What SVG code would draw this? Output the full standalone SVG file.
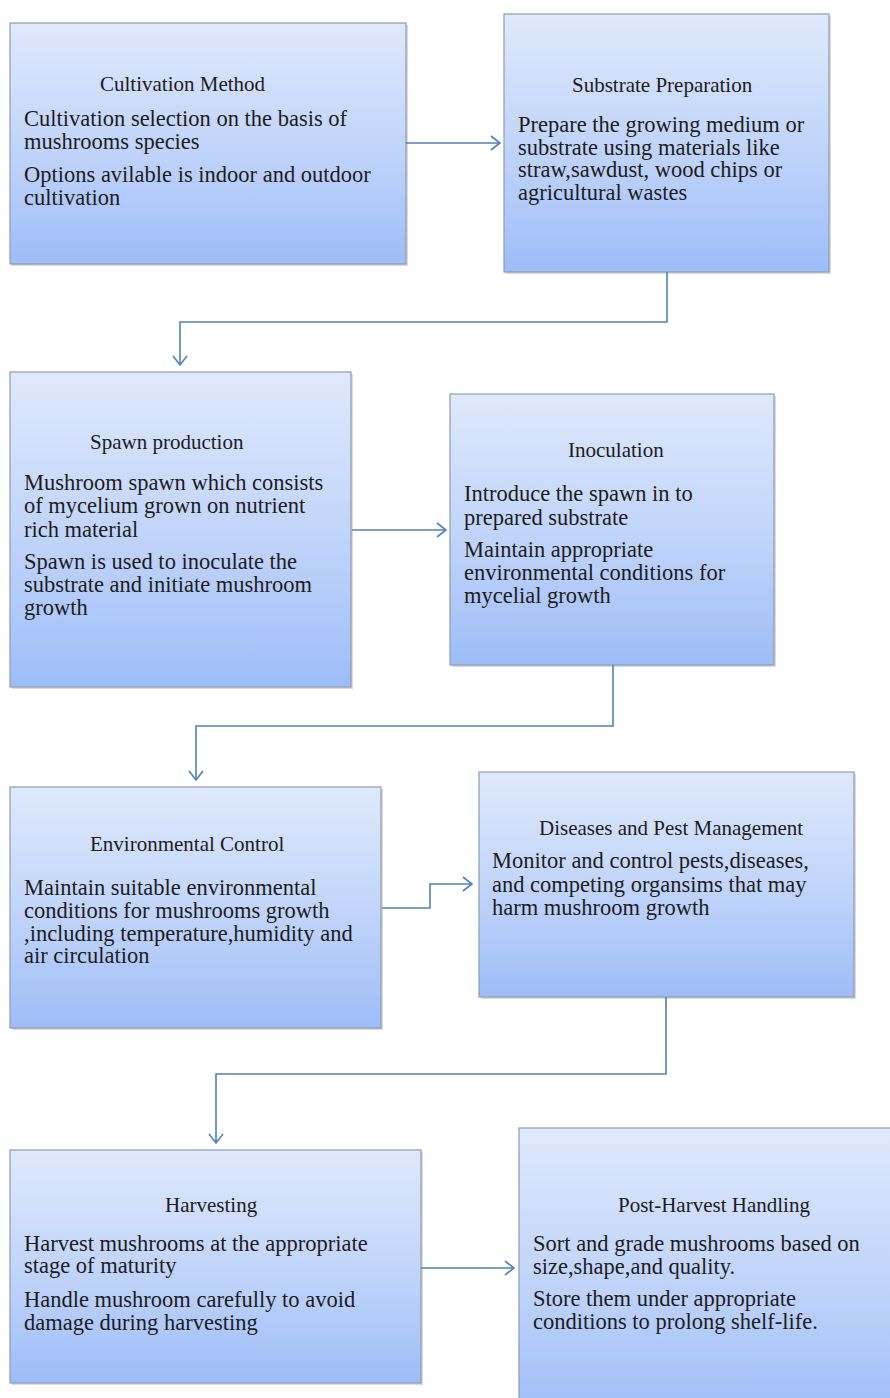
<svg xmlns="http://www.w3.org/2000/svg" width="890" height="1398" viewBox="0 0 890 1398">
<defs>
<linearGradient id="g" x1="0" y1="0" x2="0" y2="1">
<stop offset="0" stop-color="#dfe9fc"/>
<stop offset="0.6" stop-color="#bcd1fa"/>
<stop offset="1" stop-color="#9dbdf8"/>
</linearGradient>
<marker id="a" markerUnits="userSpaceOnUse" markerWidth="20" markerHeight="20" refX="10" refY="8" orient="auto">
<path d="M1,1 L10,8 L1,15" fill="none" stroke="#4f81bd" stroke-width="1.6"/>
</marker>
</defs>
<style>
.box{fill:url(#g);stroke:#8c9cb3;stroke-width:1.2}
.sh{fill:#9a9a9a;opacity:0.35}
.t{font-family:"Liberation Serif","Times New Roman",serif;font-size:21px;fill:#1c1c1c}
.b{font-family:"Liberation Serif","Times New Roman",serif;font-size:22.5px;fill:#1c1c1c}
.c{fill:none;stroke:#4f81bd;stroke-width:1.6;marker-end:url(#a)}
</style>
<rect width="890" height="1398" fill="#ffffff"/>
<g id="n1">
<rect class="sh" x="12" y="25" width="396" height="241"/>
<rect class="box" x="10" y="23" width="396" height="241"/>
<text class="t" x="100" y="91">Cultivation Method</text>
<text class="b" x="24" y="126">Cultivation selection on the basis of</text>
<text class="b" x="24" y="149">mushrooms species</text>
<text class="b" x="24" y="182">Options avilable is indoor and outdoor</text>
<text class="b" x="24" y="205">cultivation</text>
</g>
<g id="n2">
<rect class="sh" x="506" y="16" width="325" height="258"/>
<rect class="box" x="504" y="14" width="325" height="258"/>
<text class="t" x="572" y="92">Substrate Preparation</text>
<text class="b" x="518" y="132">Prepare the growing medium or</text>
<text class="b" x="518" y="155">substrate using materials like</text>
<text class="b" x="518" y="177">straw,sawdust, wood chips or</text>
<text class="b" x="518" y="200">agricultural wastes</text>
</g>
<g id="n3">
<rect class="sh" x="12" y="374" width="341" height="315"/>
<rect class="box" x="10" y="372" width="341" height="315"/>
<text class="t" x="90" y="449">Spawn production</text>
<text class="b" x="24" y="490">Mushroom spawn which consists</text>
<text class="b" x="24" y="513">of mycelium grown on nutrient</text>
<text class="b" x="24" y="537">rich material</text>
<text class="b" x="24" y="569">Spawn is used to inoculate the</text>
<text class="b" x="24" y="592">substrate and initiate mushroom</text>
<text class="b" x="24" y="615">growth</text>
</g>
<g id="n4">
<rect class="sh" x="452" y="396" width="324" height="271"/>
<rect class="box" x="450" y="394" width="324" height="271"/>
<text class="t" x="568" y="457">Inoculation</text>
<text class="b" x="464" y="501">Introduce the spawn in to</text>
<text class="b" x="464" y="525">prepared substrate</text>
<text class="b" x="464" y="557">Maintain appropriate</text>
<text class="b" x="464" y="580">environmental conditions for</text>
<text class="b" x="464" y="603">mycelial growth</text>
</g>
<g id="n5">
<rect class="sh" x="12" y="789" width="371" height="241"/>
<rect class="box" x="10" y="787" width="371" height="241"/>
<text class="t" x="90" y="851">Environmental Control</text>
<text class="b" x="24" y="895">Maintain suitable environmental</text>
<text class="b" x="24" y="918">conditions for mushrooms growth</text>
<text class="b" x="24" y="941">,including temperature,humidity and</text>
<text class="b" x="24" y="963">air circulation</text>
</g>
<g id="n6">
<rect class="sh" x="481" y="774" width="375" height="225"/>
<rect class="box" x="479" y="772" width="375" height="225"/>
<text class="t" x="539" y="835">Diseases and Pest Management</text>
<text class="b" x="492" y="868">Monitor and control pests,diseases,</text>
<text class="b" x="492" y="892">and competing organsims that may</text>
<text class="b" x="492" y="915">harm mushroom growth</text>
</g>
<g id="n7">
<rect class="sh" x="12" y="1152" width="411" height="233"/>
<rect class="box" x="10" y="1150" width="411" height="233"/>
<text class="t" x="165" y="1212">Harvesting</text>
<text class="b" x="24" y="1251">Harvest mushrooms at the appropriate</text>
<text class="b" x="24" y="1273">stage of maturity</text>
<text class="b" x="24" y="1307">Handle mushroom carefully to avoid</text>
<text class="b" x="24" y="1330">damage during harvesting</text>
</g>
<g id="n8">
<rect class="box" x="519" y="1128" width="380" height="290"/>
<text class="t" x="618" y="1212">Post-Harvest Handling</text>
<text class="b" x="533" y="1251">Sort and grade mushrooms based on</text>
<text class="b" x="533" y="1274">size,shape,and quality.</text>
<text class="b" x="533" y="1306">Store them under appropriate</text>
<text class="b" x="533" y="1329">conditions to prolong shelf-life.</text>
</g>
<g id="connectors">
<path class="c" d="M406,143 L500,143"/>
<path class="c" d="M667,272 L667,322 L180,322 L180,365"/>
<path class="c" d="M352,530 L446,530"/>
<path class="c" d="M613,665 L613,726 L196,726 L196,780"/>
<path class="c" d="M382,908 L430,908 L430,884 L472,884"/>
<path class="c" d="M666,997 L666,1074 L216,1074 L216,1143"/>
<path class="c" d="M421,1268 L514,1268"/>
</g>
</svg>
